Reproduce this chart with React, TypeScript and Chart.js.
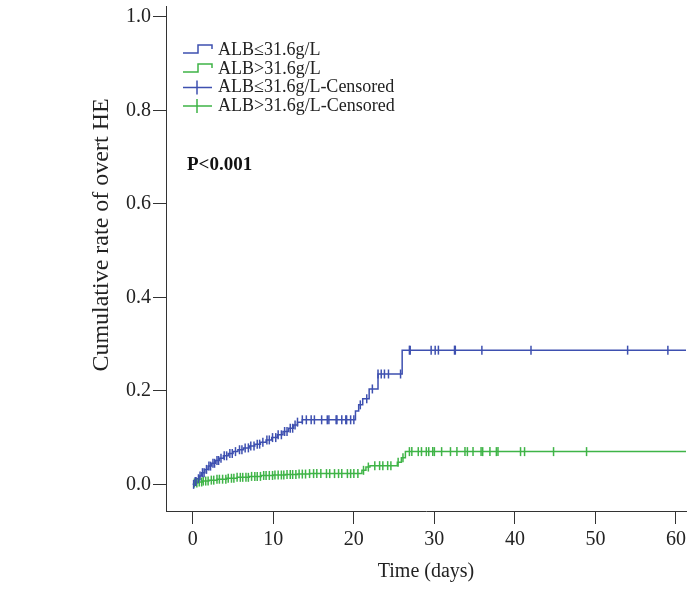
import React, { useEffect, useRef } from "react";
import { Chart, registerables } from "chart.js";
Chart.register(...registerables);

const FONT = "'Liberation Serif', 'Times New Roman', serif";
const TEXT = "#222222";
const AXIS = "#333333";
const BLUE = "#3e50b0";
const GREEN = "#3fb447";

// Kaplan–Meier style cumulative incidence (event times and cumulative rates)
const blueTimes = [0, 0.2, 0.5, 0.8, 1.1, 1.5, 1.9, 2.3, 2.8, 3.3, 3.8, 4.4, 5.0, 5.6, 6.3, 7.0, 7.7, 8.4, 9.1, 9.8, 10.5, 11.2, 11.9, 12.5, 13.0, 13.6, 20.2, 20.6, 21.1, 21.9, 23.0, 26.0];
const blueRates = [0, 0.006, 0.012, 0.018, 0.025, 0.032, 0.039, 0.045, 0.051, 0.056, 0.061, 0.066, 0.070, 0.074, 0.078, 0.082, 0.086, 0.090, 0.095, 0.100, 0.106, 0.113, 0.120, 0.127, 0.133, 0.138, 0.157, 0.170, 0.183, 0.204, 0.236, 0.287];

const greenTimes = [0, 0.2, 0.6, 1.2, 2.0, 3.0, 4.2, 5.5, 7.0, 8.5, 10.0, 11.5, 13.0, 14.5, 21.0, 21.5, 22.0, 25.4, 25.9, 26.4];
const greenRates = [0, 0.003, 0.005, 0.007, 0.009, 0.011, 0.013, 0.015, 0.017, 0.019, 0.020, 0.021, 0.022, 0.023, 0.030, 0.037, 0.040, 0.047, 0.057, 0.070];

const blueCensored = [0.1, 0.3, 0.4, 0.7, 0.9, 1.2, 1.4, 1.7, 2.0, 2.2, 2.5, 2.7, 3.0, 3.2, 3.5, 3.9, 4.2, 4.6, 4.9, 5.3, 5.8, 6.1, 6.5, 6.9, 7.2, 7.6, 8.0, 8.3, 8.7, 9.2, 9.5, 9.9, 10.3, 10.6, 11.0, 11.4, 11.7, 12.1, 12.4, 12.7, 13.0, 13.6, 14.1, 14.7, 15.1, 16.0, 16.7, 16.9, 17.8, 17.9, 18.5, 19.0, 19.1, 19.6, 20.0, 20.8, 21.6, 22.3, 23.0, 23.4, 23.8, 24.3, 25.8, 26.9, 27.0, 29.6, 30.1, 30.5, 32.5, 32.6, 35.9, 42.0, 54.0, 59.0];
const greenCensored = [0.2, 0.5, 0.8, 1.1, 1.3, 1.6, 1.9, 2.3, 2.6, 3.0, 3.3, 3.7, 4.1, 4.4, 4.8, 5.1, 5.5, 5.9, 6.2, 6.6, 6.9, 7.3, 7.7, 8.0, 8.4, 8.8, 9.1, 9.5, 9.9, 10.2, 10.6, 11.0, 11.3, 11.7, 12.1, 12.4, 12.8, 13.2, 13.6, 14.0, 14.5, 15.0, 15.4, 15.9, 16.6, 17.0, 17.6, 18.1, 18.5, 19.2, 19.6, 20.0, 20.5, 21.2, 21.8, 22.6, 23.2, 23.6, 24.2, 24.6, 25.5, 26.1, 26.9, 27.2, 28.0, 28.4, 29.0, 29.3, 29.8, 30.0, 30.9, 32.0, 32.8, 33.8, 34.1, 34.8, 35.8, 36.0, 36.9, 37.7, 37.9, 40.7, 41.2, 44.8, 48.9];

const xTicks = [0, 10, 20, 30, 40, 50, 60];
const yTicks = [0, 0.2, 0.4, 0.6, 0.8, 1.0];
const legendLabels = ["ALB≤31.6g/L", "ALB>31.6g/L", "ALB≤31.6g/L-Censored", "ALB>31.6g/L-Censored"];
const pText = "P<0.001";
const xTitle = "Time (days)";
const yTitle = "Cumulative rate of overt HE";

const X_MIN = -3.33;
const X_MAX = 61.25;
const Y_MIN = -0.057;
const Y_MAX = 1.023;

function rateAt(times: number[], rates: number[], t: number) {
  let v = 0;
  for (let i = 0; i < times.length; i++) if (times[i] <= t) v = rates[i];
  return v;
}

function stepData(times: number[], rates: number[]) {
  const pts = times.map((t, i) => ({ x: t, y: rates[i] }));
  pts.push({ x: X_MAX, y: rates[rates.length - 1] });
  return pts;
}

function censData(cens: number[], times: number[], rates: number[]) {
  return cens.map((t) => ({ x: t, y: rateAt(times, rates, t) }));
}

const overlayPlugin = {
  id: "overlay",
  afterDraw(chart: any) {
    const ctx = chart.ctx as CanvasRenderingContext2D;
    ctx.save();
    const x0 = 183, x1 = 212, tx = 218;
    const rows = [50, 69, 87.5, 106];
    const colors = [BLUE, GREEN, BLUE, GREEN];
    ctx.lineWidth = 1.5;
    rows.forEach((y, i) => {
      ctx.strokeStyle = colors[i];
      ctx.beginPath();
      if (i < 2) {
        ctx.moveTo(x0, y + 3);
        ctx.lineTo(198, y + 3);
        ctx.lineTo(198, y - 5);
        ctx.lineTo(x1, y - 5);
        ctx.lineTo(x1, y - 1);
      } else {
        ctx.moveTo(x0, y);
        ctx.lineTo(x1, y);
        ctx.moveTo(197, y - 7);
        ctx.lineTo(197, y + 7);
      }
      ctx.stroke();
      ctx.fillStyle = TEXT;
      ctx.font = `18px ${FONT}`;
      ctx.textBaseline = "middle";
      ctx.textAlign = "left";
      ctx.fillText(legendLabels[i], tx, y);
    });
    ctx.font = `bold 19px ${FONT}`;
    ctx.fillStyle = "#111";
    ctx.fillText(pText, 187, 165);
    // y-axis title
    ctx.translate(102, 235);
    ctx.rotate(-Math.PI / 2);
    ctx.font = `24px ${FONT}`;
    ctx.fillStyle = TEXT;
    ctx.textAlign = "center";
    ctx.textBaseline = "middle";
    ctx.fillText(yTitle, 0, 0);
    ctx.restore();
  },
};

export default function App() {
  const ref = useRef<HTMLCanvasElement>(null);
  useEffect(() => {
    const tickFont = { family: FONT, size: 20 };
    const chart = new Chart(ref.current!, {
      type: "line",
      data: {
        datasets: [
          {
            label: legendLabels[2],
            type: "scatter",
            data: censData(blueCensored, blueTimes, blueRates),
            pointStyle: "line",
            rotation: 90,
            pointRadius: 4.5,
            borderWidth: 1.5,
            borderColor: BLUE,
            backgroundColor: BLUE,
            showLine: false,
          },
          {
            label: legendLabels[3],
            type: "scatter",
            data: censData(greenCensored, greenTimes, greenRates),
            pointStyle: "line",
            rotation: 90,
            pointRadius: 4.5,
            borderWidth: 1.5,
            borderColor: GREEN,
            backgroundColor: GREEN,
            showLine: false,
          },
          {
            label: legendLabels[0],
            data: stepData(blueTimes, blueRates),
            stepped: "before",
            borderColor: BLUE,
            borderWidth: 1.5,
            pointRadius: 0,
            fill: false,
          },
          {
            label: legendLabels[1],
            data: stepData(greenTimes, greenRates),
            stepped: "before",
            borderColor: GREEN,
            borderWidth: 1.5,
            pointRadius: 0,
            fill: false,
          },
        ] as any,
      },
      options: {
        animation: false,
        responsive: false,
        devicePixelRatio: 1,
        layout: { padding: { left: 0, top: 3, right: 3, bottom: 0 } },
        plugins: { legend: { display: false }, tooltip: { enabled: false } },
        scales: {
          x: {
            type: "linear",
            min: X_MIN,
            max: X_MAX,
            afterBuildTicks: (s: any) => {
              s.ticks = xTicks.map((v) => ({ value: v }));
            },
            afterFit: (s: any) => {
              s.height = 94;
              s.paddingLeft = 0;
              s.paddingRight = 0;
            },
            ticks: { font: tickFont, color: TEXT, padding: 4, maxRotation: 0, callback: (v: any) => String(v) },
            grid: { drawOnChartArea: false, drawTicks: true, tickLength: 13, color: AXIS, lineWidth: 1 },
            border: { display: true, color: AXIS, width: 1 },
            title: { display: true, text: xTitle, font: { family: FONT, size: 20, lineHeight: 1.2 }, color: TEXT, padding: { top: 0, bottom: 21 } },
          },
          y: {
            type: "linear",
            min: Y_MIN,
            max: Y_MAX,
            afterBuildTicks: (s: any) => {
              s.ticks = yTicks.map((v) => ({ value: v }));
            },
            afterFit: (s: any) => {
              s.width = 166;
              s.paddingTop = 0;
              s.paddingBottom = 0;
            },
            ticks: { font: tickFont, color: TEXT, padding: 2, callback: (v: any) => Number(v).toFixed(1) },
            grid: { drawOnChartArea: false, drawTicks: true, tickLength: 13, color: AXIS, lineWidth: 1 },
            border: { display: true, color: AXIS, width: 1 },
            title: { display: false },
          },
        },
      } as any,
      plugins: [overlayPlugin],
    });
    return () => chart.destroy();
  }, []);
  return (
    <div style={{ position: "fixed", left: 0, top: 0, width: 692, height: 605, background: "#fff" }}>
      <canvas ref={ref} width={692} height={605} style={{ display: "block", width: 692, height: 605 }} />
    </div>
  );
}
